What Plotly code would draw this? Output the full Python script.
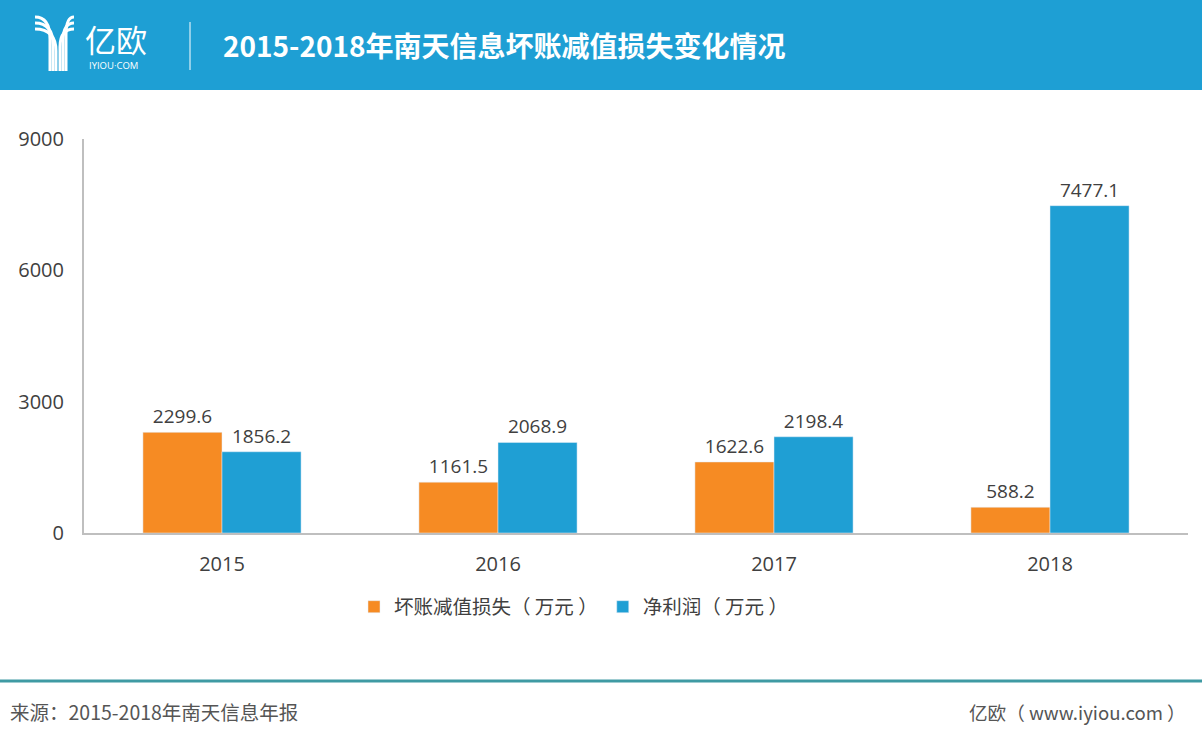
import plotly.graph_objects as go

years = ["2015", "2016", "2017", "2018"]
bad_debt = [2299.6, 1161.5, 1622.6, 588.2]
net_profit = [1856.2, 2068.9, 2198.4, 7477.1]
y_ticks = [0, 3000, 6000, 9000]

W, H = 1202, 740
L, R, T, B = 84, 14, 139, 207
PW, PH = W - L - R, H - T - B

def px(x):
    return (x - L) / PW

def py(y):
    return (H - B - y) / PH

ORANGE = "#f68b23"
BLUE = "#1f9fd4"
TXT = "#404040"
FONT = "Open Sans, Noto Sans CJK SC, sans-serif"
CJK = "Noto Sans CJK SC, sans-serif"

fig = go.Figure()
fig.add_bar(x=years, y=bad_debt, name="坏账减值损失（ 万元 ）", marker_color=ORANGE,
            text=[f"{v:.1f}" for v in bad_debt], textposition="outside",
            textfont=dict(size=19, color=TXT, family=FONT), cliponaxis=False)
fig.add_bar(x=years, y=net_profit, name="净利润（ 万元 ）", marker_color=BLUE,
            text=[f"{v:.1f}" for v in net_profit], textposition="outside",
            textfont=dict(size=19, color=TXT, family=FONT), cliponaxis=False)

shapes = []
shapes.append(dict(type="rect", xref="paper", yref="paper", x0=px(0), x1=px(W), y0=py(90), y1=py(0),
                   fillcolor="#1e9fd4", line_width=0, layer="below"))
shapes.append(dict(type="line", xref="paper", yref="paper", x0=px(190), x1=px(190), y0=py(70), y1=py(22),
                   line=dict(color="white", width=1)))

def P(x, y):
    return f"{px(x):.5f},{py(y):.5f}"

left = [(17, 50), (23, 53), (29, 56)]
for y0, xs in left:
    path = f"M {P(35, y0)} Q {P(xs, y0)} {P(xs, y0 + 22)} L {P(xs, 71)}"
    shapes.append(dict(type="path", xref="paper", yref="paper", path=path,
                       line=dict(color="white", width=3)))
right = [(17, 66), (23, 63), (29, 60)]
for y0, xs in right:
    path = f"M {P(74, y0)} Q {P(xs, y0)} {P(xs, y0 + 18)} L {P(xs, 71)}"
    shapes.append(dict(type="path", xref="paper", yref="paper", path=path,
                       line=dict(color="white", width=3)))
shapes.append(dict(type="line", xref="paper", yref="paper", x0=px(0), x1=px(W), y0=py(681), y1=py(681),
                   line=dict(color="#3f9aa3", width=3)))

annotations = [
    dict(text="亿欧", x=px(83), y=py(38), xref="paper", yref="paper", xanchor="left", yanchor="middle",
         showarrow=False, font=dict(size=31, color="white", family=CJK)),
    dict(text="IYIOU·COM", x=px(87), y=py(65), xref="paper", yref="paper", xanchor="left", yanchor="middle",
         showarrow=False, font=dict(size=9.5, color="white", family=FONT)),
    dict(text="<b>2015-2018年南天信息坏账减值损失变化情况</b>", x=px(221), y=py(45), xref="paper", yref="paper",
         xanchor="left", yanchor="middle", showarrow=False, font=dict(size=28, color="white", family=CJK)),
    dict(text="来源：2015-2018年南天信息年报", x=px(8), y=py(711), xref="paper", yref="paper",
         xanchor="left", yanchor="middle", showarrow=False, font=dict(size=19.5, color="#555555", family=CJK)),
    dict(text="亿欧（ www.iyiou.com ）", x=px(1188), y=py(711), xref="paper", yref="paper",
         xanchor="right", yanchor="middle", showarrow=False, font=dict(size=18.6, color="#555555", family=CJK)),
]

fig.update_layout(
    width=W, height=H,
    margin=dict(l=L, r=R, t=T, b=B, autoexpand=False),
    paper_bgcolor="white", plot_bgcolor="white",
    barmode="group", bargap=0.427, bargroupgap=0,
    showlegend=True,
    legend=dict(orientation="h", x=px(354), xanchor="left", y=py(607), yanchor="middle",
                font=dict(size=19.5, color=TXT, family=CJK), itemwidth=30, traceorder="normal",
                tracegroupgap=0),
    xaxis=dict(showline=True, linecolor="#bfbfbf", linewidth=2, ticks="", showgrid=False,
               ticklabelstandoff=12,
               tickfont=dict(size=20, color=TXT, family=FONT)),
    yaxis=dict(range=[0, 9000], tickvals=y_ticks, showline=True, linecolor="#bfbfbf", linewidth=2,
               showgrid=False, zeroline=False, ticks="", ticklabelstandoff=14,
               tickfont=dict(size=20, color=TXT, family=FONT)),
    shapes=shapes, annotations=annotations,
    font=dict(family=FONT),
)

fig.write_html("out.html", config={"displayModeBar": False},
               post_script="document.body.style.margin='0';document.body.style.overflow='hidden';")
